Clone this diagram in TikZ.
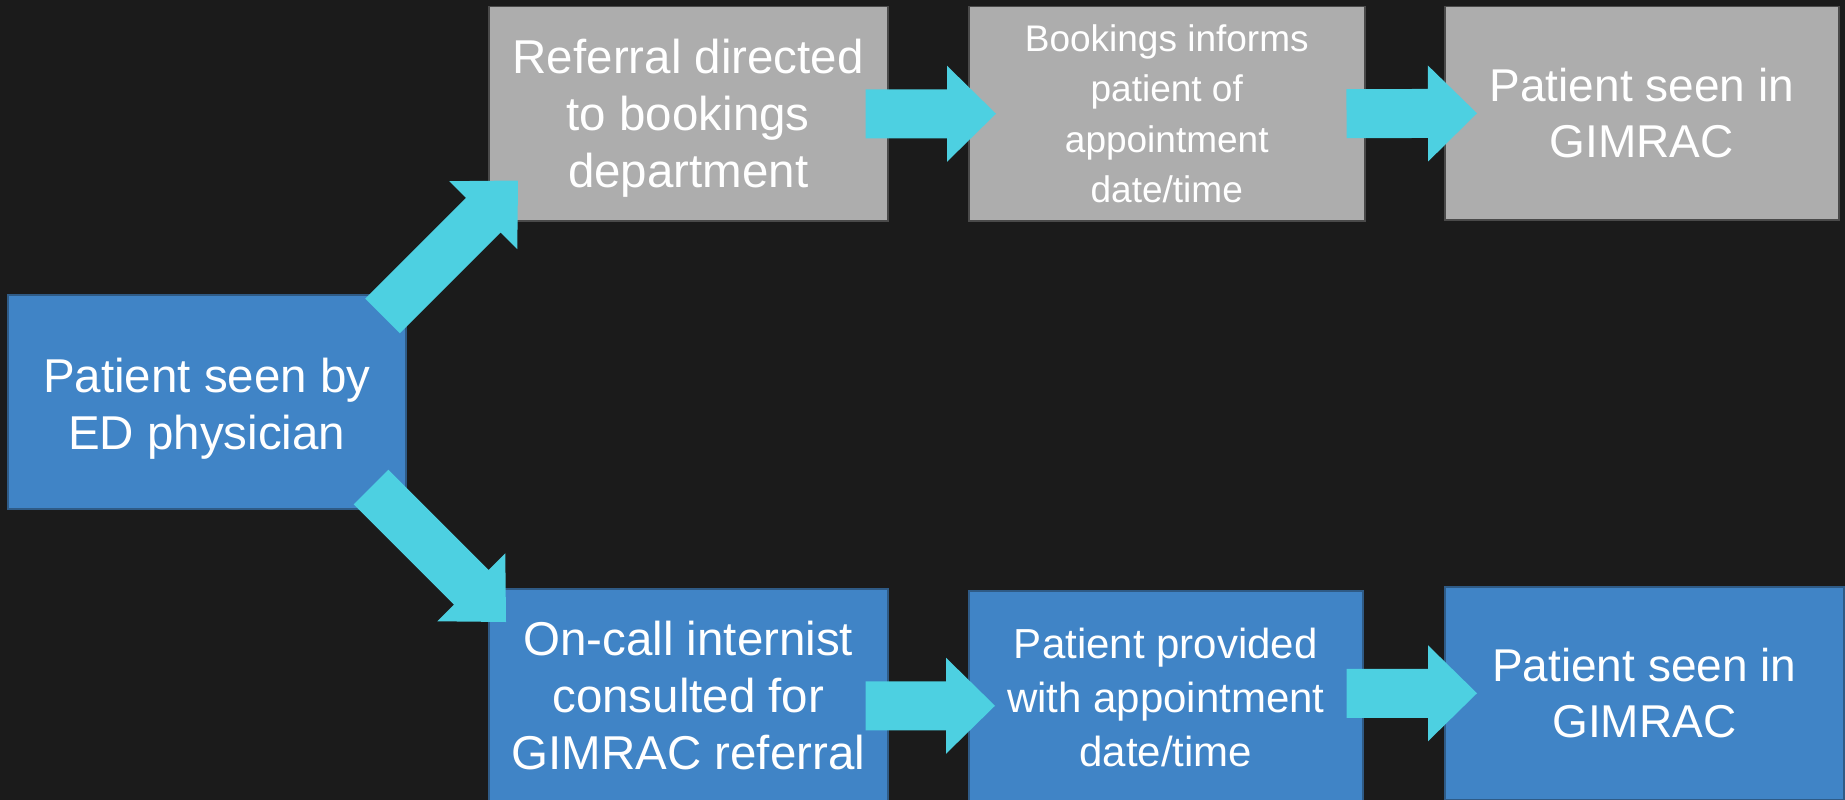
\documentclass[tikz,border=0pt]{standalone}
\usepackage{fontspec}
\setmainfont{Liberation Sans}
\usetikzlibrary{calc}

\definecolor{bg}{HTML}{1B1B1B}
\definecolor{boxgray}{HTML}{ADADAD}
\definecolor{boxblue}{HTML}{4084C6}
\definecolor{flow}{HTML}{4DD0E1}
\definecolor{edgegray}{HTML}{4A4A4A}
\definecolor{edgeblue}{HTML}{2F5B86}

% Block arrow from #1 (tail centre) to #2 (tip)
\newcommand\blockarrow[2]{%
  \coordinate (hb) at ($(#2)!49pt!(#1)$);
  \fill[flow] ($(#1)!24.5pt!90:(#2)$) -- ($(hb)!24.5pt!-90:(#1)$)
    -- ($(hb)!48pt!-90:(#1)$) -- (#2) -- ($(hb)!48pt!90:(#1)$)
    -- ($(hb)!24.5pt!90:(#1)$) -- ($(#1)!24.5pt!-90:(#2)$) -- cycle;}

% invisible strut that sets the height of a first line
\newcommand\topstrut[1]{\rule{0pt}{#1}}

\tikzset{
  box/.style={rectangle, inner sep=0pt, anchor=north west, align=center,
    text=white, line width=1.5pt},
  graybox/.style={box, fill=boxgray, draw=edgegray},
  bluebox/.style={box, fill=boxblue, draw=edgeblue},
  big/.style={font=\fontsize{47.5}{57}\selectfont},
}

\begin{document}
\begin{tikzpicture}[x=1pt, y=-1pt]
\useasboundingbox (0,0) rectangle (1845,800);
\fill[bg] (0,0) rectangle (1845,800);

% process boxes
\node[bluebox, big, minimum width=398pt, minimum height=214pt] (ed) at (7,294)
  {\topstrut{48pt}Patient seen by\\ED physician};
\node[graybox, big, minimum width=399pt, minimum height=214pt] (ref) at (488,6)
  {\topstrut{43pt}Referral directed\\to bookings\\department};
\node[graybox, font=\fontsize{37}{50.5}\selectfont, minimum width=396pt, minimum height=214pt] (book) at (968,6)
  {Bookings informs\\patient of\\appointment\\date/time};
\node[graybox, font=\fontsize{46}{56}\selectfont, minimum width=394pt, minimum height=213pt] (seenA) at (1444,6)
  {Patient seen in\\GIMRAC};
\node[bluebox, big, minimum width=399pt, minimum height=214pt] (onc) at (488,588)
  {On-call internist\\consulted for\\GIMRAC referral};
\node[bluebox, font=\fontsize{42}{54}\selectfont, minimum width=394pt, minimum height=214pt] (prov) at (968,590)
  {Patient provided\\with appointment\\date/time};
\node[bluebox, font=\fontsize{46}{56}\selectfont, minimum width=399pt, minimum height=213pt] (seenB) at (1444,586)
  {Patient seen in\\GIMRAC};

% arrow end points
\coordinate (a1s) at ($(ed.north east)+(-24,22)$);
\coordinate (a1e) at ($(ref.south west)+(30,-41)$);
\coordinate (a2s) at ($(ed.south east)+(-35.5,-22.5)$);
\coordinate (a2e) at ($(onc.north west)+(18,34)$);
\coordinate (a3s) at ($(ref.east)+(-23,0)$);
\coordinate (a3e) at ($(book.west)+(28,0)$);
\coordinate (a4s) at ($(book.east)+(-19,0)$);
\coordinate (a4e) at ($(seenA.west)+(33,0)$);
\coordinate (a5s) at ($(onc.east)+(-23,10)$);
\coordinate (a5e) at ($(prov.west)+(27,8)$);
\coordinate (a6s) at ($(prov.east)+(-17,-4.5)$);
\coordinate (a6e) at ($(seenB.west)+(33,0)$);

% flow arrows
\blockarrow{a1s}{a1e}
\blockarrow{a2s}{a2e}
\blockarrow{a3s}{a3e}
\blockarrow{a4s}{a4e}
\blockarrow{a5s}{a5e}
\blockarrow{a6s}{a6e}
\end{tikzpicture}
\end{document}
